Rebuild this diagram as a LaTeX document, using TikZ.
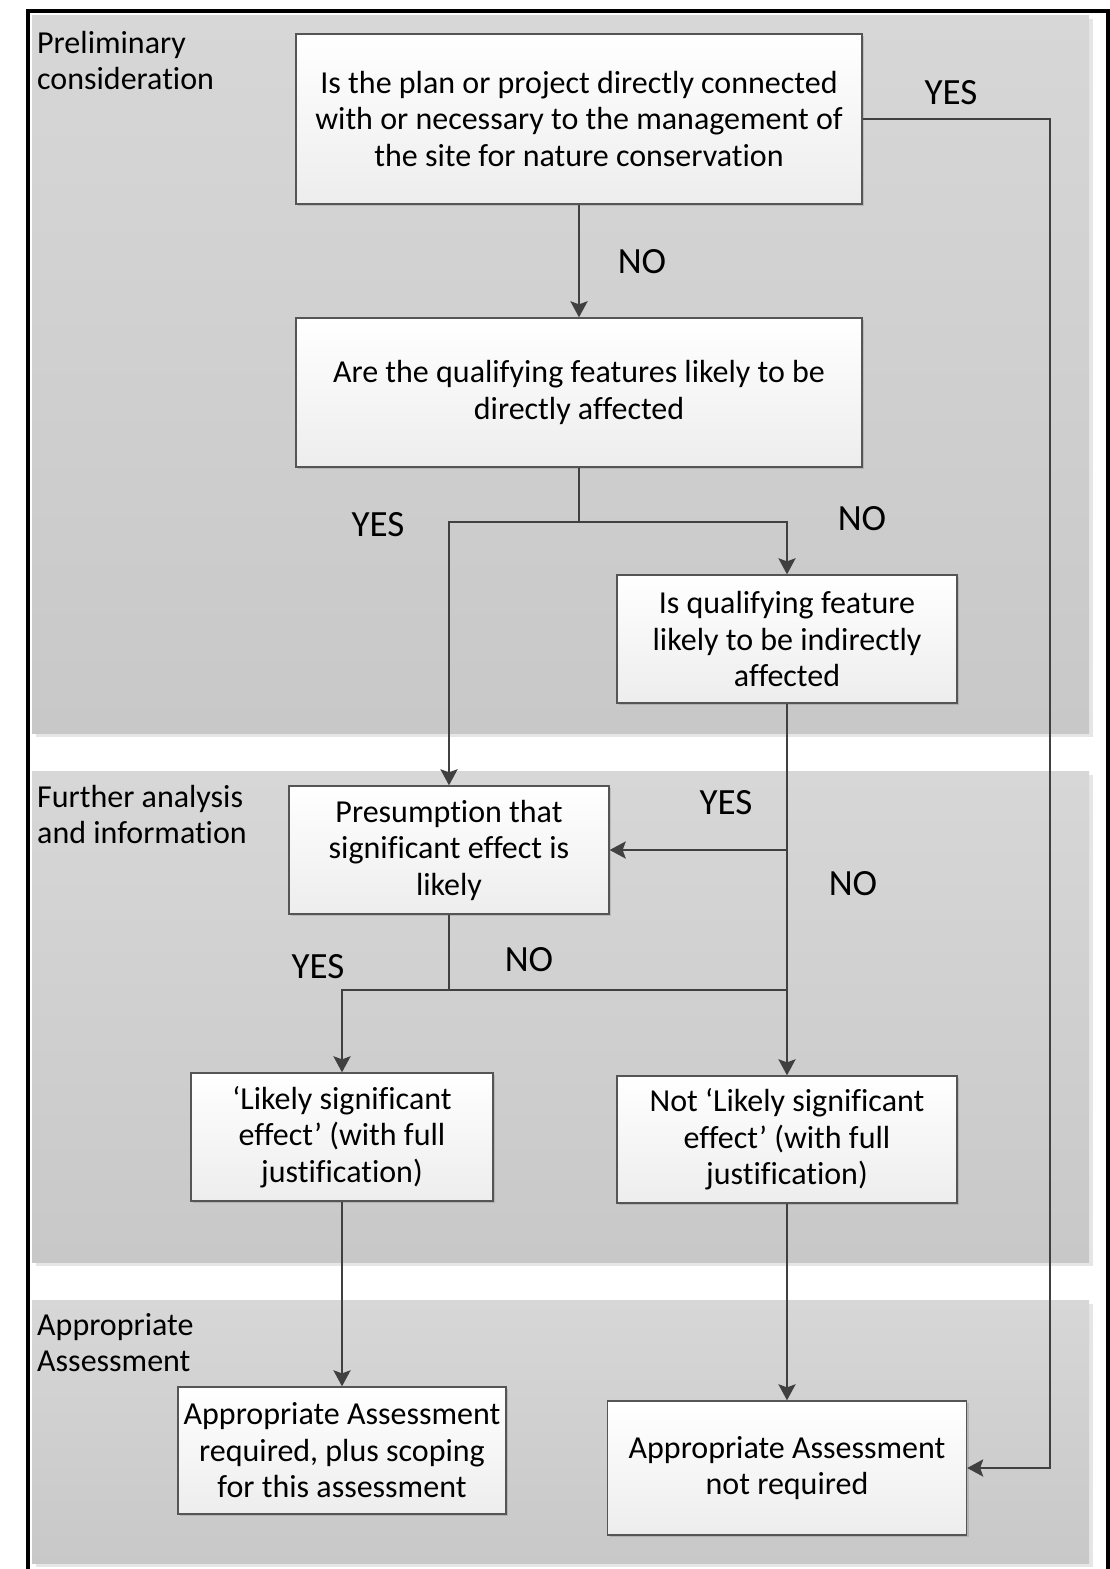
\documentclass[tikz,border=0pt]{standalone}
\usepackage{fontspec}
\setmainfont{Carlito}[Ligatures=NoCommon,RawFeature=-liga]
\usetikzlibrary{shadows,arrows.meta}
\definecolor{lineC}{HTML}{404040}
\definecolor{boxline}{HTML}{555555}
\definecolor{bandTop}{HTML}{D7D7D7}
\definecolor{bandBot}{HTML}{C8C8C8}
\definecolor{bandShadow}{HTML}{E6E6E6}
\definecolor{boxBot}{HTML}{EDEDED}
\tikzset{
  band/.style={top color=bandTop, bottom color=bandBot, draw=none},
  bandsh/.style={fill=bandShadow, draw=none},
  flowbox/.style={draw=boxline, line width=1.3pt, top color=white, bottom color=boxBot,
    align=center, inner sep=0pt, font=\fontsize{32}{36.5}\selectfont,
    drop shadow={shadow xshift=2pt, shadow yshift=-2pt, fill=black, opacity=0.12}},
  conn/.style={draw=lineC, line width=2.6pt},
  arr/.style={conn, -{Stealth[length=16pt,width=17pt,inset=3pt]}},
  lab/.style={font=\fontsize{37}{40}\selectfont, inner sep=0pt},
  seclab/.style={font=\fontsize{32}{36.5}\selectfont, align=left, inner sep=0pt, anchor=north west}
}
\begin{document}
\begin{tikzpicture}[x=1pt,y=-1pt]
\useasboundingbox (0,0) rectangle (1110,1569);
\fill[white] (0,0) rectangle (1110,1569);
% bands
\fill[bandsh] (36,19) rectangle (1093,737);
\fill[band] (32,15) rectangle (1089,733);
\fill[bandsh] (36,775) rectangle (1093,1266);
\fill[band] (32,771) rectangle (1089,1262);
\fill[bandsh] (36,1304) rectangle (1093,1567);
\fill[band] (32,1300) rectangle (1089,1563);
% outer border
\draw[black, line width=3.5pt] (28,1580) -- (28,11) -- (1108,11) -- (1108,1580);
% section labels
\node[seclab] (s1) at (37,31) {Preliminary\\consideration};
\node[seclab] (s2) at (37,785) {Further analysis\\and information};
\node[seclab] (s3) at (37,1313) {Appropriate\\Assessment};
% boxes
\node[flowbox, minimum width=566pt, minimum height=170pt] (b1) at (579,119)
  {Is the plan or project directly connected\\with or necessary to the management of\\the site for nature conservation};
\node[flowbox, minimum width=566pt, minimum height=149pt] (b2) at (579,392.5)
  {Are the qualifying features likely to be\\directly affected};
\node[flowbox, minimum width=340pt, minimum height=128pt] (b3) at (787,639)
  {Is qualifying feature\\likely to be indirectly\\affected};
\node[flowbox, minimum width=320pt, minimum height=128pt] (b4) at (449,850)
  {Presumption that\\significant effect is\\likely};
\node[flowbox, minimum width=302pt, minimum height=128pt] (b5) at (342,1137)
  {‘Likely significant\\effect’ (with full\\justification)};
\node[flowbox, minimum width=340pt, minimum height=127pt] (b6) at (787,1139.5)
  {Not ‘Likely significant\\effect’ (with full\\justification)};
\node[flowbox, minimum width=328pt, minimum height=127pt] (b7) at (342,1450.5)
  {Appropriate Assessment\\required, plus scoping\\for this assessment};
\node[flowbox, minimum width=359pt, minimum height=134pt] (b8) at (787,1468)
  {Appropriate Assessment\\not required};
% junctions
\coordinate (yesR) at (1050,119);
\coordinate (j1) at (579,522);
\coordinate (j2) at (787,850);
\coordinate (j3) at (449,990);
\coordinate (j4) at (787,990);
% connectors
\draw[arr] (b1.south) -- (b2.north);
\draw[arr] (b1.east) -- (yesR) |- (b8.east);
\draw[conn] (b2.south) -- (j1);
\draw[arr] (j1) -| (b4.north);
\draw[arr] (j1) -| (b3.north);
\draw[arr] (b3.south) |- (b4.east);
\draw[arr] (j2) -- (b6.north);
\draw[conn] (b4.south) -- (j3);
\draw[arr] (j3) -| (b5.north);
\draw[conn] (j3) -- (j4);
\draw[arr] (b5.south) -- (b7.north);
\draw[arr] (b6.south) -- (b8.north);
% labels
\node[lab] (l1) at (642,262) {NO};
\node[lab] (l2) at (951,93) {YES};
\node[lab] (l3) at (378,525) {YES};
\node[lab] (l4) at (862,519) {NO};
\node[lab] (l5) at (726,803) {YES};
\node[lab] (l6) at (853,884) {NO};
\node[lab] (l7) at (318,967) {YES};
\node[lab] (l8) at (529,960) {NO};
\end{tikzpicture}
\end{document}
